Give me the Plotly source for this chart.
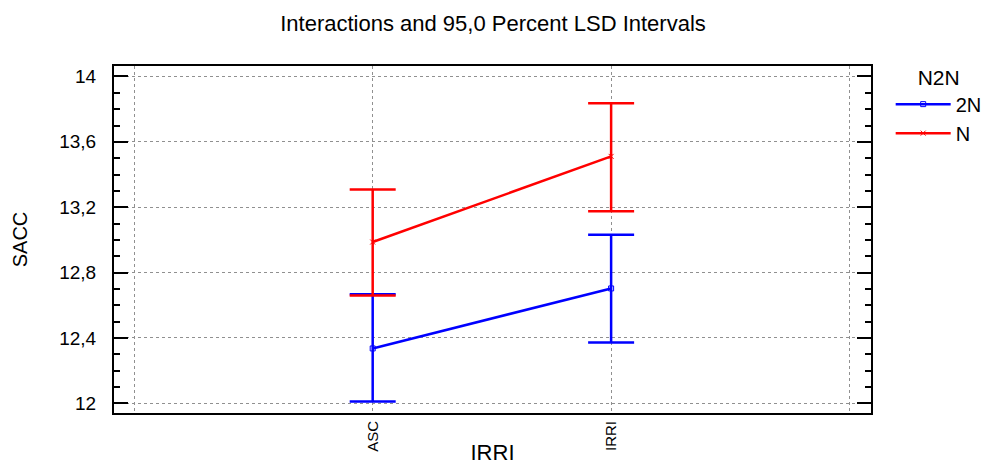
import plotly.graph_objects as go

categories = ["ASC", "IRRI"]
cat_pos = [1, 2]
series_names = ["2N", "N"]
means_2N = [12.336, 12.703]
upper_2N = [12.667, 13.032]
lower_2N = [12.012, 12.373]
means_N = [12.987, 13.511]
upper_N = [13.309, 13.836]
lower_N = [12.660, 13.176]
colors = ["#0000ff", "#ff0000"]
symbols = ["square-open", "x-thin-open"]

fig = go.Figure()
for name, m, up, lo, col, sym in [
    (series_names[0], means_2N, upper_2N, lower_2N, colors[0], symbols[0]),
    (series_names[1], means_N, upper_N, lower_N, colors[1], symbols[1]),
]:
    fig.add_trace(go.Scatter(
        x=cat_pos, y=m, name=name, mode="lines+markers",
        line=dict(color=col, width=2.5),
        marker=dict(symbol=sym, size=5, color=col, line=dict(color=col, width=1)),
        error_y=dict(type="data", symmetric=False,
                     array=[u - v for u, v in zip(up, m)],
                     arrayminus=[v - l for v, l in zip(m, lo)],
                     color=col, thickness=2.5, width=23),
    ))

font_family = "Liberation Sans, Arial, sans-serif"
fig.update_layout(
    width=986, height=465,
    margin=dict(l=114, r=115, t=66, b=52, autoexpand=False),
    paper_bgcolor="white", plot_bgcolor="white",
    font=dict(family=font_family, color="black"),
    title=dict(text="Interactions and 95,0 Percent LSD Intervals",
               x=0.5, xanchor="center", y=0.95, yanchor="middle",
               font=dict(size=22, family=font_family)),
    legend=dict(title=dict(text="N2N", font=dict(size=21), side="top center"),
                x=1.026, xanchor="left", y=1.025, yanchor="top",
                font=dict(size=20), tracegroupgap=0, itemwidth=55),
    showlegend=True,
)
fig.update_xaxes(
    range=[-0.085, 3.09], automargin=False,
    tickmode="array", tickvals=[0, 1, 2, 3], ticktext=[""] + categories + [""],
    tickangle=-90, tickfont=dict(size=15),
    showgrid=True, gridcolor="#909090", griddash="dot", gridwidth=1,
    showline=True, linecolor="black", linewidth=2, mirror=True,
    ticks="", zeroline=False,
    title=dict(text="IRRI", font=dict(size=22), standoff=5),
)
fig.update_yaxes(
    range=[11.941, 14.064], automargin=False,
    tickmode="array", tickvals=[12, 12.4, 12.8, 13.2, 13.6, 14],
    ticktext=["12", "12,4", "12,8", "13,2", "13,6", "14"],
    tickfont=dict(size=19),
    ticks="inside", ticklen=14, tickwidth=1.5, tickcolor="black",
    minor=dict(ticks="inside", ticklen=6, tickwidth=1.5, tickcolor="black",
               dtick=0.1, tick0=12, showgrid=False),
    showgrid=True, gridcolor="#909090", griddash="dot", gridwidth=1,
    showline=True, linecolor="black", linewidth=2, mirror="ticks",
    zeroline=False, ticklabelstandoff=12,
    title=dict(text="SACC", font=dict(size=20), standoff=26),
)
fig.write_html("out.html")
